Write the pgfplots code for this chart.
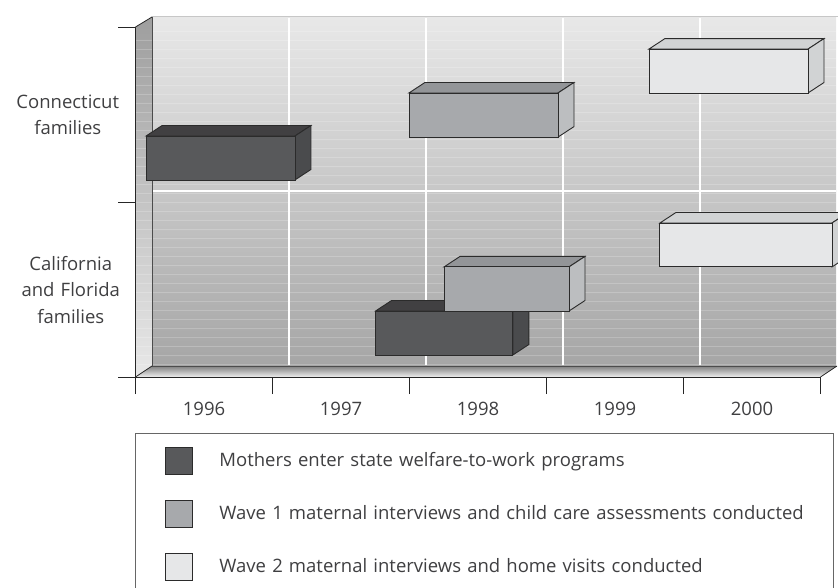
\documentclass[border=0pt]{standalone}
\usepackage{pgfplots}
\pgfplotsset{compat=1.18}
\usepackage{fontspec}
\setmainfont{Open Sans}
\definecolor{txt}{HTML}{3F3F41}
\definecolor{darkF}{HTML}{58595B}
\definecolor{darkT}{HTML}{414042}
\definecolor{darkS}{HTML}{4A4B4D}
\definecolor{midF}{HTML}{A7A9AC}
\definecolor{midT}{HTML}{939598}
\definecolor{midS}{HTML}{BCBEC0}
\definecolor{litF}{HTML}{E6E7E8}
\definecolor{litT}{HTML}{D1D3D4}
\definecolor{litS}{HTML}{D1D3D4}
\definecolor{edge}{HTML}{2B2B2B}
% bar: front x0,x1,y0,y1; fill colours
\newcommand{\gbar}[7]{%
  \pgfmathsetmacro\xa{#1+0.1168}\pgfmathsetmacro\xb{#2+0.1168}\pgfmathsetmacro\yb{#4+0.06}\pgfmathsetmacro\yc{#3+0.06}%
  \addplot[forget plot,draw=edge,line width=0.9pt,fill=#6] coordinates {(#1,#4)(\xa,\yb)(\xb,\yb)(#2,#4)} --cycle;
  \addplot[forget plot,draw=edge,line width=0.9pt,fill=#7] coordinates {(#2,#3)(\xb,\yc)(\xb,\yb)(#2,#4)} --cycle;
  \addplot[forget plot,draw=edge,line width=0.9pt,fill=#5] coordinates {(#1,#3)(#2,#3)(#2,#4)(#1,#4)} --cycle;
}
\begin{document}
\begin{tikzpicture}
\path[use as bounding box,clip] (0,0) rectangle (838pt,-588pt);
\begin{scope}[x=1pt,y=-1pt]
% back wall
\shade[top color=black!9,middle color=black!20,bottom color=black!35] (152,17) rectangle (836,366);
\draw[black!22,line width=0.8pt] (152,16) -- (838,16);
% left wall
\shade[top color=black!38,bottom color=black!9] (135.5,27) -- (152,17) -- (152,366) -- (135.5,377) -- cycle;
% floor
\shade[top color=black!50,bottom color=black!6] (135.5,377) -- (152,366) -- (837,366) -- (820.5,377) -- cycle;
\foreach \y in {31,40,...,364} {
  \draw[white,opacity=0.2,line width=0.6pt] (153,\y) -- (836,\y);
  \ifnum\y>36 \draw[white,opacity=0.2,line width=0.6pt] (136,\y) -- (151.5,\y); \fi
}
\foreach \x in {289,426,563,700} \draw[white,line width=2.4pt] (\x,18) -- (\x,365);
\draw[white,line width=2.6pt] (153,191) -- (836,191);
\draw[black!70,line width=0.7pt] (152,17) -- (152,366) -- (837,366);
\draw[black!85,line width=0.8pt] (135.5,27) -- (152,17);
\draw[black!85,line width=0.8pt] (135.5,377) -- (152,366);
\draw[black!85,line width=0.8pt] (820.5,377) -- (837,366);
\end{scope}
\begin{axis}[
  at={(135.5pt,-377pt)},anchor=origin,
  scale only axis,width=685pt,height=350pt,
  xmin=0,xmax=5,ymin=0,ymax=2,
  clip=false,
  axis x line=bottom,axis y line=left,
  axis line style={-,draw=black!85,line width=0.8pt},
  tick align=outside,
  xtick={0.5,1.5,2.5,3.5,4.5},
  xticklabels={1996,1997,1998,1999,2000},
  minor xtick={0,1,2,3,4,5},
  ytick={0.5,1.5},
  yticklabels={{\hspace*{6pt}California\\\hspace*{6pt}and Florida\\\hspace*{6pt}families},{Connecticut\\families}},
  minor ytick={0,1,2},
  major tick length=0pt,
  minor tick length=17pt,
  tick style={draw=black!85,line width=0.8pt},
  xticklabel style={yshift=-22pt,font=\fontsize{18.5}{22}\selectfont,text=txt},
  yticklabel style={align=center,text width=108pt,inner sep=0pt,xshift=-13.5pt,yshift=-0.5pt,font=\fontsize{18.5}{26.3}\selectfont,text=txt},
  legend style={at={(axis description cs:0,-0.16)},anchor=north west,xshift=-0.5pt,draw=black!60,line width=0.8pt,
    fill=white,inner xsep=0pt,inner ysep=13pt,font=\fontsize{18.5}{22}\selectfont,text=txt,
    row sep=25pt,
    nodes={inner sep=0pt,text width=614pt,align=left,text height=15pt,text depth=3pt}},
  legend cell align=left,
  legend image code/.code={\path[draw=none,fill=none] (0pt,-14pt) rectangle (84pt,14pt);\draw[#1,line width=0.8pt] (30pt,-13.5pt) rectangle (57pt,13.5pt);},
]
\gbar{0.077}{1.164}{1.126}{1.377}{darkF}{darkT}{darkS}
\gbar{1.996}{3.084}{1.371}{1.623}{midF}{midT}{midS}
\gbar{3.748}{4.909}{1.623}{1.874}{litF}{litT}{litS}
\gbar{1.752}{2.755}{0.126}{0.377}{darkF}{darkT}{darkS}
\gbar{2.252}{3.164}{0.377}{0.629}{midF}{midT}{midS}
\gbar{3.828}{5.084}{0.629}{0.880}{litF}{litT}{litS}
\addlegendimage{draw=edge,fill=darkF}
\addlegendentry{Mothers enter state welfare-to-work programs}
\addlegendimage{draw=edge,fill=midF}
\addlegendentry{Wave 1 maternal interviews and child care assessments conducted}
\addlegendimage{draw=edge,fill=litF}
\addlegendentry{Wave 2 maternal interviews and home visits conducted}
\end{axis}
\end{tikzpicture}
\end{document}
